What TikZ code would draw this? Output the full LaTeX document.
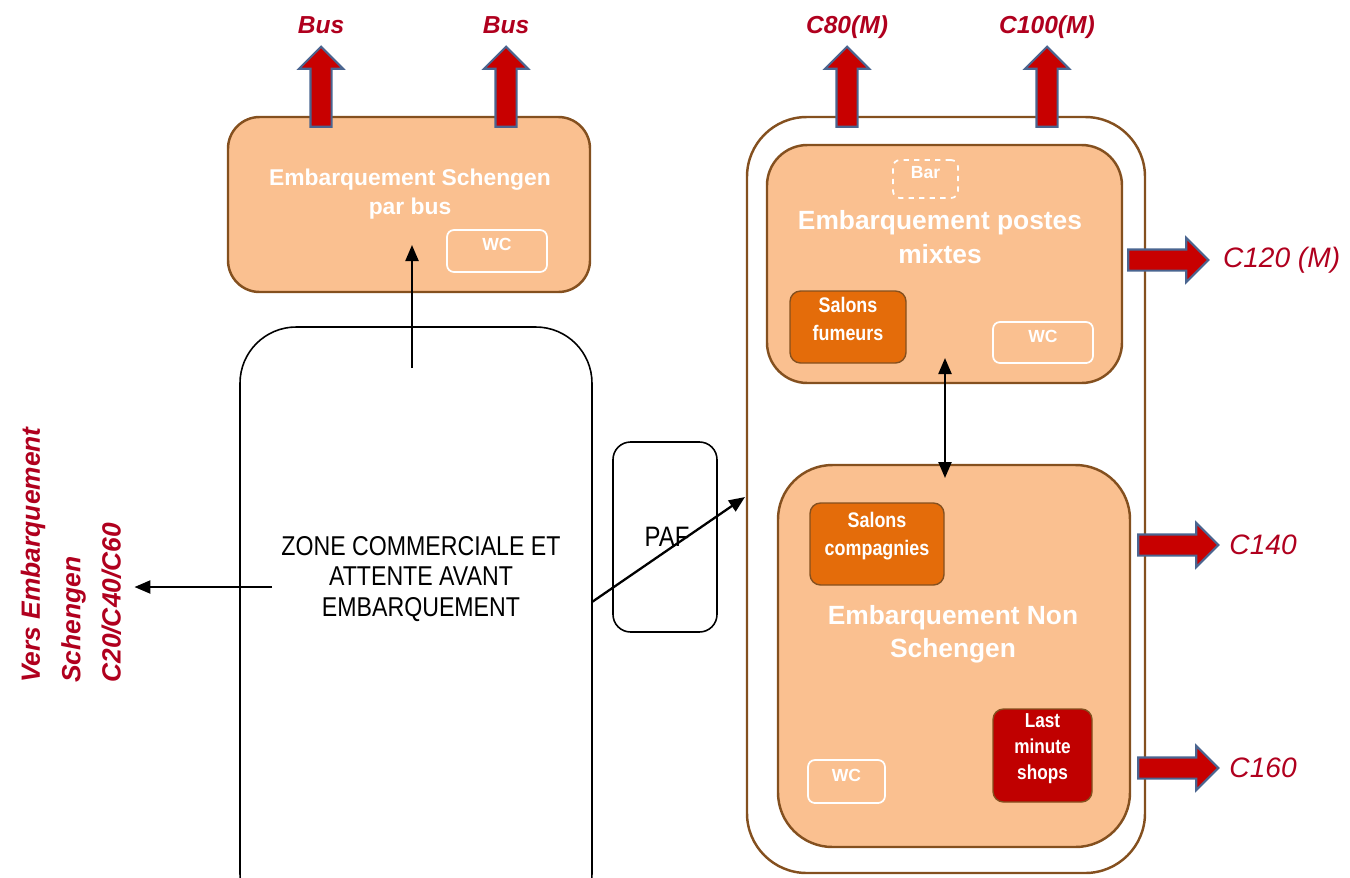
\documentclass[tikz,border=0pt]{standalone}
\usepackage{fontspec}
\setmainfont{Liberation Sans}
\newfontfamily\narrowfont[FakeStretch=0.85]{Liberation Sans}
\usetikzlibrary{arrows.meta,positioning,shapes.arrows,fit}
\definecolor{paleO}{RGB}{250,192,144}
\definecolor{edgeB}{RGB}{132,80,31}
\definecolor{deepO}{RGB}{228,108,10}
\definecolor{shopR}{RGB}{192,0,0}
\definecolor{exitR}{RGB}{200,0,0}
\definecolor{exitB}{RGB}{74,101,144}
\definecolor{gateR}{RGB}{176,0,30}

\begin{document}
\begin{tikzpicture}[x=0.02cm, y=-0.02cm, >={Triangle[length=3.2mm,width=2.6mm]},
  area/.style={draw=edgeB, line width=1.4pt, fill=paleO, inner sep=0},
  title/.style={text=white, font=\bfseries\fontsize{15}{19}\selectfont, align=center},
  wcbox/.style={draw=white, line width=1pt, rounded corners=4pt, inner sep=0, text=white,
    font=\bfseries\fontsize{10}{11}\selectfont},
  salon/.style={draw=edgeB, line width=0.8pt, rounded corners=6pt, inner sep=0, text=white,
    align=center, font=\bfseries\narrowfont\fontsize{12}{16}\selectfont},
  exit/.style={single arrow, draw=exitB, fill=exitR, line width=1.2pt, inner xsep=0,
    inner ysep=0.19cm, single arrow head extend=0.23cm, minimum height=1.6cm},
  exitup/.style={exit, rotate=90},
  gate/.style={text=gateR, text depth=0pt, font=\bfseries\itshape\fontsize{14}{16}\selectfont},
  sidegate/.style={text=gateR, font=\itshape\fontsize{16}{18}\selectfont},
  flow/.style={line width=1.3pt}]
  \clip (0,0) rectangle (1350,877);

  % Schengen bus boarding
  \node[area, rounded corners=18pt, fit={(228,117) (590,292)}] (busBox) {};
  \node[title, font=\bfseries\fontsize{13}{16.5}\selectfont] (busTitle) at (410,194)
    {Embarquement Schengen\\par bus};
  \node[wcbox, fit={(447,230) (547,272)}] (busWC) {WC};
  \node[exitup] (exBusA) at (321,92) {};
  \node[exitup] (exBusB) at (506,92) {};
  \node[gate, above=3pt of exBusA.tip] {Bus};
  \node[gate, above=3pt of exBusB.tip] {Bus};

  % waiting zone and PAF
  \node[draw, line width=0.9pt, rounded corners=32pt, inner sep=0, fit={(240,327) (592,930)}] (zone) {};
  \node[font=\narrowfont\fontsize{15.5}{17.6}\selectfont, align=center] (zoneText) at (421,579)
    {ZONE COMMERCIALE ET\\ATTENTE AVANT\\EMBARQUEMENT};
  \node[draw, line width=0.9pt, rounded corners=10pt, inner sep=0, fit={(613,442) (717,632)}] (paf) {};
  \node[font=\narrowfont\fontsize{16}{17}\selectfont] (pafText) at (667,537) {PAF};
  \node[rotate=90, text=gateR, align=left, font=\bfseries\itshape\fontsize{15}{23}\selectfont]
    (vers) at (71,555) {Vers Embarquement\\Schengen\\C20/C40/C60};

  % non Schengen area
  \node[draw=edgeB, line width=1.4pt, rounded corners=34pt, inner sep=0, fit={(747,117) (1145,873)}] (outer) {};
  \node[area, rounded corners=23pt, fit={(767,145) (1122,383)}] (mixtes) {};
  \node[title] (mixTitle) at (940,237) {Embarquement postes\\mixtes};
  \node[wcbox, dashed, fit={(893,160) (958,198)}] (bar) {Bar};
  \node[salon, fill=deepO, fit={(790,291) (906,363)}] (fumeurs) {Salons\\fumeurs};
  \node[wcbox, fit={(993,322) (1093,363)}] (mixWC) {WC};
  \node[area, rounded corners=31pt, fit={(778,465) (1130,847)}] (nonSch) {};
  \node[title] (nsTitle) at (953,634) {Embarquement Non\\Schengen};
  \node[salon, fill=deepO, fit={(810,503) (944,585)}] (compagnies) {Salons\\compagnies};
  \node[salon, fill=shopR, font=\bfseries\narrowfont\fontsize{11.5}{15}\selectfont,
    fit={(993,709) (1092,802)}] (shops) {Last\\minute\\shops};
  \node[wcbox, fit={(808,760) (885,803)}] (nsWC) {WC};

  \node[exitup] (exC80) at (847,92) {};
  \node[exitup] (exC100) at (1047,92) {};
  \node[gate, above=3pt of exC80.tip] {C80(M)};
  \node[gate, above=3pt of exC100.tip] {C100(M)};
  \node[exit] (exC120) at (1163,260) {};
  \node[exit] (exC140) at (1173,545) {};
  \node[exit] (exC160) at (1173,768) {};
  \node[sidegate, right=4pt of exC120.tip] {C120 (M)};
  \node[sidegate, right=2pt of exC140.tip] {C140};
  \node[sidegate, right=2pt of exC160.tip] {C160};

  % flows
  \coordinate (zUp) at (412,368);
  \coordinate (busIn) at (412,245);
  \coordinate (zLeft) at (272,587);
  \coordinate (zOut) at (592,602);
  \coordinate (outerIn) at (745,497);
  \coordinate (mixLow) at (945,358);
  \coordinate (nsIn) at (945,478);
  \draw[flow, ->] (zUp) -- (busIn);
  \draw[flow, ->, shorten >=4pt] (zLeft) -- (zLeft -| vers.south);
  \draw[flow, ->] (zOut) -- (outerIn);
  \draw[flow, <->] (mixLow) -- (nsIn);
\end{tikzpicture}
\end{document}
